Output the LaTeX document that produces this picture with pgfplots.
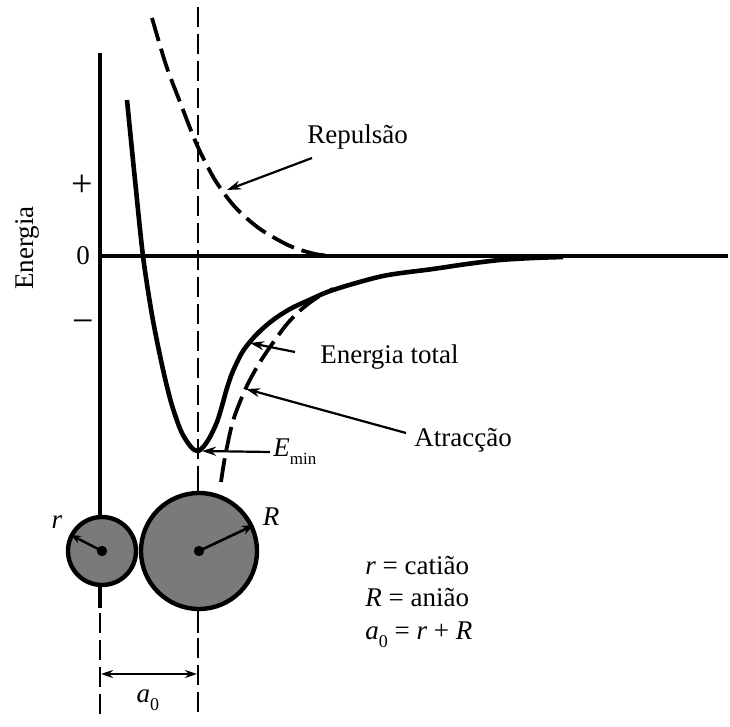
\documentclass[border=0pt]{standalone}
\usepackage{pgfplots}
\pgfplotsset{compat=1.18}
\usepackage{fontspec}
\setmainfont{Liberation Serif}
\usetikzlibrary{arrows.meta}
\begin{document}
\begin{tikzpicture}[txt/.style={font=\fontsize{13.5}{16}\selectfont}]
\begin{axis}[x=0.5pt, y=0.5pt, y dir=reverse, hide axis,
  xmin=0, xmax=730, ymin=0, ymax=727, clip=false]
\path (axis cs:0,0) rectangle (axis cs:730,727);
% axes
\addplot[black, line width=1.6pt] coordinates {(100,53) (100,608)};
\addplot[black, line width=1.4pt, dash pattern=on 10pt off 3.5pt] coordinates {(100,613) (100,715)};
\addplot[black, line width=1.6pt] coordinates {(100,256) (728,256)};
\addplot[black, line width=1.4pt, dash pattern=on 10pt off 3.5pt] coordinates {(198,7) (198,484)};
\addplot[black, line width=1.4pt] coordinates {(198,484) (198,493)};
\addplot[black, line width=1.4pt] coordinates {(198,608) (198,633)};
\addplot[black, line width=1.4pt, dash pattern=on 10pt off 3.5pt] coordinates {(198,638) (198,718)};
% repulsion
\addplot[black, line width=1.9pt, smooth, dash pattern=on 12pt off 4pt] coordinates {
(152,18) (166,65) (180,102) (197,145) (215,180) (235,207) (260,229) (290,246) (315,254) (333,256)};
% attraction
\addplot[black, line width=1.9pt, smooth, dash pattern=on 12pt off 4pt] coordinates {
(221,482) (225,457) (233,421) (245,390) (257,367) (270,347) (287,324) (303,308) (318,297) (333,289)};
% total energy
\addplot[black, line width=2.3pt, smooth] coordinates {
(127,100) (135,180) (143,256) (152,315) (162,365) (171,402) (181,431) (191,447) (198,451)
(204,446) (210,437) (217,422) (222,406) (227,388) (233,371) (243,351) (257,334) (273,320)
(290,309) (307,301) (333,290) (383,276) (433,269) (467,264) (500,260) (533,258) (563,257)};
% circles
\draw[line width=2.2pt, fill=black!52] (axis cs:102,551) circle[radius=17pt];
\draw[line width=2.2pt, fill=black!52] (axis cs:199,551) circle[radius=29pt];
\fill (axis cs:102,551) circle[radius=2.6pt];
\fill (axis cs:199,551) circle[radius=2.6pt];
\draw[line width=1.2pt, -{Stealth[length=5pt,width=4pt]}] (axis cs:102,551) -- (axis cs:71,535);
\draw[line width=1.3pt, -{Stealth[length=6pt,width=4.5pt]}] (axis cs:199,551) -- (axis cs:254,525);
% dimension arrow
\draw[line width=1.1pt, {Stealth[length=6pt,width=4pt]}-{Stealth[length=6pt,width=4pt]}] (axis cs:101,674) -- (axis cs:197,674);
% label arrows
\draw[line width=1.1pt, -{Stealth[length=7pt,width=4.5pt]}] (axis cs:312,158) -- (axis cs:227,190);
\draw[line width=1.1pt, -{Stealth[length=7pt,width=4.5pt]}] (axis cs:295,352) -- (axis cs:250,343);
\draw[line width=1.1pt, -{Stealth[length=7pt,width=4.5pt]}] (axis cs:406,433) -- (axis cs:246,389);
\draw[line width=1.1pt, -{Stealth[length=7pt,width=4.5pt]}] (axis cs:270,452) -- (axis cs:202,451);
% texts
\node[txt, rotate=90] at (axis cs:27,248) {Energia};
\node[font=\fontsize{19}{20}\selectfont] at (axis cs:82,186) {+};
\node[txt] at (axis cs:83,256) {0};
\node[font=\fontsize{19}{20}\selectfont] at (axis cs:83,327) {\textminus};
\node[txt, anchor=base west, inner sep=0pt] at (axis cs:307,144) {Repulsão};
\node[txt, anchor=base west, inner sep=0pt] at (axis cs:320,364) {Energia total};
\node[txt, anchor=base west, inner sep=0pt] at (axis cs:414,447) {Atracção};
\node[txt, anchor=base west, inner sep=0pt] at (axis cs:273,457) {\textit{E}\raisebox{-4pt}{\fontsize{8.5}{10}\selectfont min}};
\node[txt, anchor=base, inner sep=0pt] at (axis cs:57,529) {\textit{r}};
\node[txt, anchor=base, inner sep=0pt] at (axis cs:271,526) {\textit{R}};
\node[txt, anchor=base west, inner sep=0pt] at (axis cs:365,575) {\textit{r} = catião};
\node[txt, anchor=base west, inner sep=0pt] at (axis cs:365,607) {\textit{R} = anião};
\node[txt, anchor=base west, inner sep=0pt] at (axis cs:365,640) {\textit{a}\raisebox{-4pt}{\fontsize{9}{10}\selectfont 0} = \textit{r} + \textit{R}};
\node[txt, anchor=base, inner sep=0pt] at (axis cs:148,703) {\textit{a}\raisebox{-4pt}{\fontsize{9}{10}\selectfont 0}};
\end{axis}
\end{tikzpicture}
\end{document}
